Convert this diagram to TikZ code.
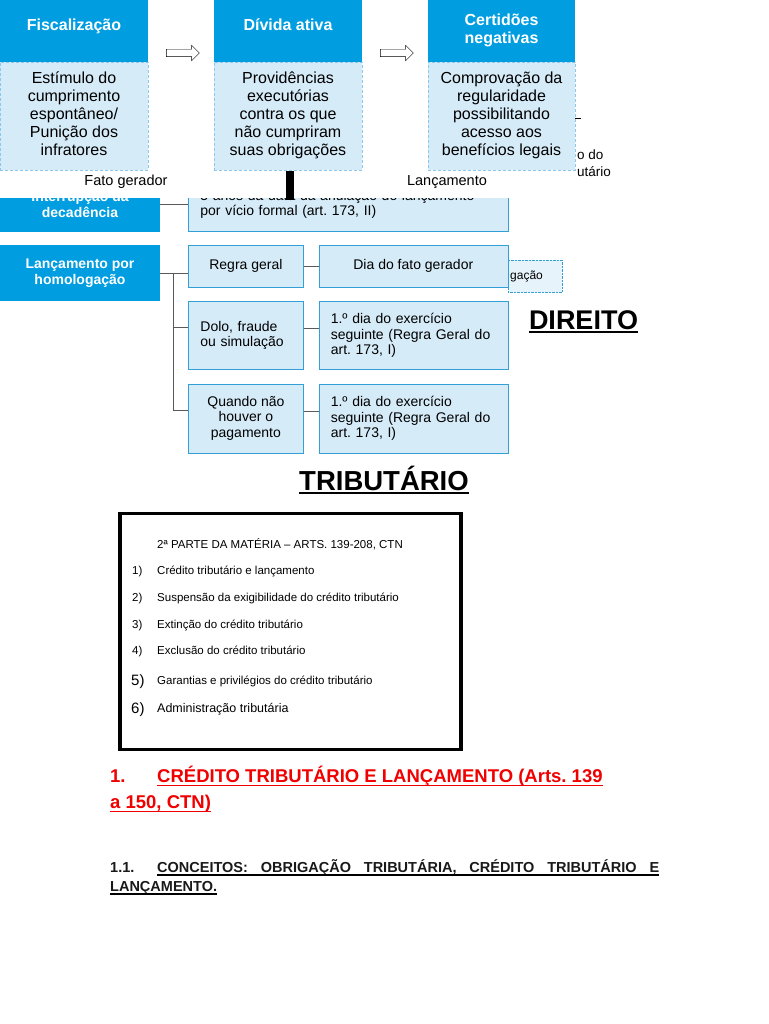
\documentclass[tikz,border=0pt]{standalone}
\usepackage{fontspec}
\setmainfont{Liberation Sans}
\usetikzlibrary{shapes.arrows,positioning,calc}
\definecolor{azul}{RGB}{0,158,224}
\definecolor{claro}{RGB}{214,235,248}
\definecolor{borda}{RGB}{50,160,215}
\definecolor{tracejado}{RGB}{140,200,235}
\definecolor{vermelho}{RGB}{240,0,0}

\begin{document}
\frenchspacing
\begin{tikzpicture}[x=1pt,y=-1pt,node distance=14pt and 15pt]
\tikzstyle{H}=[fill=azul,text=white,font=\bfseries\fontsize{16}{18}\selectfont,align=center,minimum width=148pt,minimum height=62pt,inner sep=0pt]
\tikzstyle{C}=[fill=claro,draw=tracejado,densely dashed,font=\fontsize{16}{18}\selectfont,align=center,minimum width=148pt,minimum height=108pt,inner sep=0pt,text depth=6pt]
\tikzstyle{D}=[fill=azul,text=white,font=\bfseries\fontsize{14}{16}\selectfont,align=center,minimum width=160pt,inner sep=0pt]
\tikzstyle{B}=[fill=claro,draw=borda,font=\fontsize{14}{15.5}\selectfont,inner sep=0pt]
\tikzstyle{L}=[draw=black!65,semithick]
\tikzstyle{A}=[single arrow,draw,fill=white,thin,minimum height=33pt,single arrow head extend=4pt,inner xsep=0pt,inner ysep=3.5pt]
\tikzstyle{Q}=[font=\fontsize{11.5}{13}\selectfont,anchor=base west,inner sep=0pt]
\tikzstyle{R}=[font=\bfseries\fontsize{18.5}{21}\selectfont,text=vermelho,anchor=base west,inner sep=0pt]
\tikzstyle{S}=[font=\bfseries\fontsize{14.5}{16}\selectfont,text=black!90,anchor=base west,inner sep=0pt]

\useasboundingbox[fill=white] (0,0) rectangle (768,1024);

% restos que aparecem atras dos quadros
\node[font=\fontsize{13.5}{15}\selectfont,anchor=west,inner sep=0pt] (ext1) at (577,155) {o do};
\node[font=\fontsize{13.5}{15}\selectfont,anchor=west,inner sep=0pt] (ext2) at (577,172) {utário};
\draw (575,118) -- (581,118);
\node[draw=borda,densely dotted,fill=claro!60,font=\fontsize{12}{14}\selectfont,text width=50pt,align=left,minimum height=32pt,inner xsep=2pt,anchor=west] (homo) at (508,276) {gação};

% decadencia e homologacao
\node[D,minimum height=56pt] (hom) at (80,273) {Lançamento por\\homologação};
\node[D,minimum height=54pt,above=13pt of hom] (dec) {Interrupção da\\decadência};
\node[B,minimum width=320pt,minimum height=54pt,right=28pt of dec,align=left,text width=296pt] (anul) {5 anos da data da anulação do lançamento\\por vício formal (art. 173, II)};
\node[B,minimum width=115pt,minimum height=42pt,anchor=north west] (regra) at ($(hom.north east)+(28,0)$) {Regra geral};
\node[B,minimum width=189pt,minimum height=42pt,right=of regra] (dia) {Dia do fato gerador};
\node[B,minimum width=115pt,minimum height=68pt,below=of regra,align=left,text width=91pt] (dolo) {Dolo, fraude\\ou simulação};
\node[B,minimum width=115pt,minimum height=69pt,below=of dolo,align=center] (quando) {Quando não\\houver o\\pagamento};
\node[B,minimum width=189pt,minimum height=68pt,right=of dolo,align=left,text width=165pt] (exer1) {1.º dia do exercício\\seguinte (Regra Geral do\\art. 173, I)};
\node[B,minimum width=189pt,minimum height=69pt,right=of quando,align=left,text width=165pt] (exer2) {1.º dia do exercício\\seguinte (Regra Geral do\\art. 173, I)};

\coordinate (j) at ($(hom.east)+(13,0)$);
\draw[L] (dec) -- (anul);
\draw[L] (hom.east) -- (hom.east -| regra.west);
\draw[L] (j) |- ([yshift=8pt]dolo.west);
\draw[L] (j) |- ([yshift=8pt]quando.west);
\draw[L] (regra) -- (dia);
\draw[L] ([yshift=7pt]dolo.east) -- ([yshift=7pt]exer1.west);
\draw[L] ([yshift=7pt]quando.east) -- ([yshift=7pt]exer2.west);

\fill[white] (0,171) rectangle (520,198);

% quadros do topo
\node[H,text depth=12pt] (fisc) at (74,31) {Fiscalização};
\node[C,below=0pt of fisc] (fisc2) {Estímulo do\\cumprimento\\espontâneo/\\Punição dos\\infratores};
\node[H,text depth=12pt] (div) at (288,31) {Dívida ativa};
\node[C,below=0pt of div] (div2) {Providências\\executórias\\contra os que\\não cumpriram\\suas obrigações};
\node[H,minimum width=147pt,text depth=4pt] (cert) at (501.5,31) {Certidões\\negativas};
\node[C,minimum width=147pt,below=0pt of cert] (cert2) {Comprovação da\\regularidade\\possibilitando\\acesso aos\\benefícios legais};
\node[A] (seta1) at ($(fisc.east)!0.5!(div.west)+(0,22)$) {};
\node[A] (seta2) at ($(div.east)!0.5!(cert.west)+(0,22)$) {};
\draw[line width=8pt] ([xshift=2pt]div2.south) -- ++(0,29);

\node[font=\fontsize{14.5}{16}\selectfont] (fato) at (126,182) {Fato gerador};
\node[font=\fontsize{14.5}{16}\selectfont] (lanc) at (447,182) {Lançamento};

% titulos
\node[font=\bfseries\fontsize{27}{30}\selectfont,anchor=base,inner sep=0pt] (dir) at (583.5,329) {DIREITO};
\draw[line width=1.8pt] ([yshift=-3pt]dir.base west) -- ([yshift=-3pt]dir.base east);
\node[font=\bfseries\fontsize{27.5}{30}\selectfont,anchor=base,inner sep=0pt] (trib) at (384,490) {TRIBUTÁRIO};
\draw[line width=1.8pt] ([yshift=-3pt]trib.base west) -- ([yshift=-3pt]trib.base east);

% quadro da materia
\node[draw,line width=3.5pt,minimum width=341pt,minimum height=236pt] (caixa) at (290.5,631.5) {};
\node[Q] (topo) at (157,548) {2ª PARTE DA MATÉRIA – ARTS. 139-208, CTN};
\node[Q] (n1) at (132,574) {1)};
\node[Q] (i1) at (157,574) {Crédito tributário e lançamento};
\node[Q] (n2) at (132,601) {2)};
\node[Q] (i2) at (157,601) {Suspensão da exigibilidade do crédito tributário};
\node[Q] (n3) at (132,628) {3)};
\node[Q] (i3) at (157,628) {Extinção do crédito tributário};
\node[Q] (n4) at (132,654) {4)};
\node[Q] (i4) at (157,654) {Exclusão do crédito tributário};
\node[Q,font=\fontsize{15}{17}\selectfont] (n5) at (131,685) {5)};
\node[Q] (i5) at (157,684) {Garantias e privilégios do crédito tributário};
\node[Q,font=\fontsize{15}{17}\selectfont] (n6) at (131,713) {6)};
\node[Q,font=\fontsize{12.5}{14}\selectfont] (i6) at (157,712) {Administração tributária};

% capitulo 1
\node[R] (cap) at (110,782) {1.};
\node[R] (cap1) at (157,782) {CRÉDITO TRIBUTÁRIO E LANÇAMENTO (Arts. 139\hspace{5pt}};
\node[R] (cap2) at (110,808) {a 150, CTN)};
\draw[vermelho,line width=1.5pt] ([yshift=-3.5pt]cap1.base west) -- ([yshift=-3.5pt]cap1.base east);
\draw[vermelho,line width=1.5pt] ([yshift=-3.5pt]cap2.base west) -- ([yshift=-3.5pt]cap2.base east);

\node[S] (sec) at (110,872) {1.1.};
\node[S] (sec1) at (157,872) {\makebox[502pt][s]{CONCEITOS: OBRIGAÇÃO TRIBUTÁRIA, CRÉDITO TRIBUTÁRIO E}};
\node[S] (sec2) at (110,891) {LANÇAMENTO.\hspace{4pt}};
\draw[line width=1.2pt] ([yshift=-3pt]sec1.base west) -- ([yshift=-3pt]sec1.base east);
\draw[line width=1.2pt] ([yshift=-3pt]sec2.base west) -- ([yshift=-3pt]sec2.base east);
\end{tikzpicture}
\end{document}
